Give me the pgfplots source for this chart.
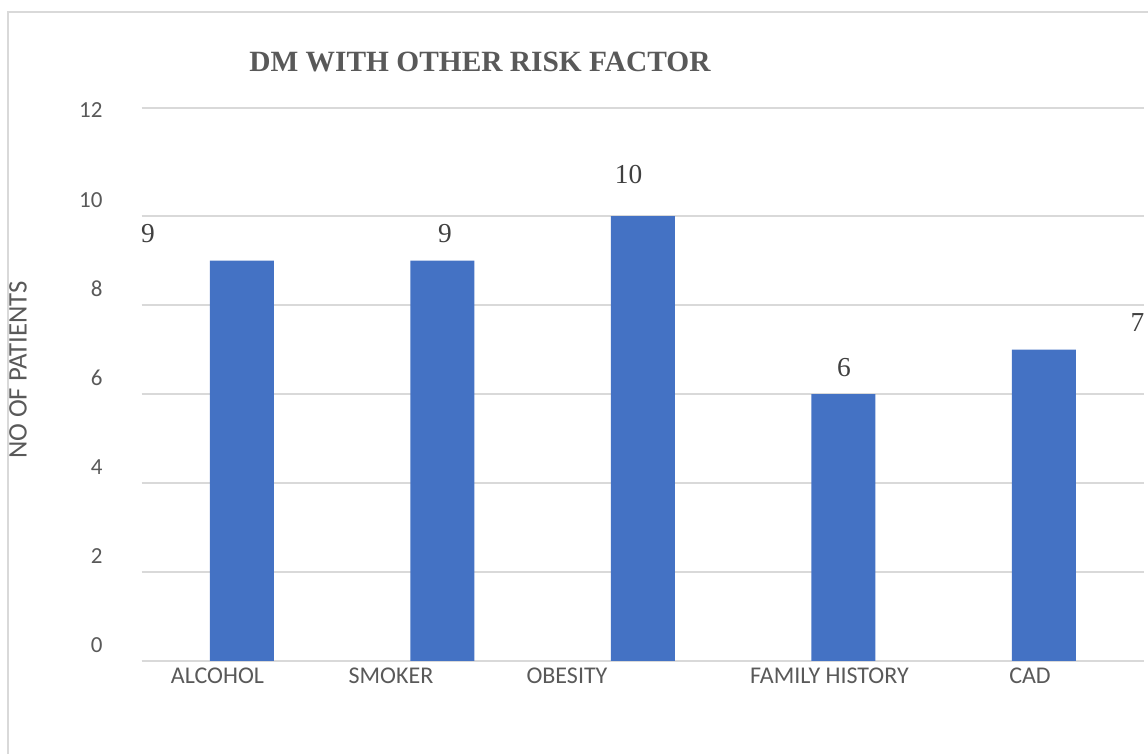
\documentclass[border=0pt]{standalone}
\usepackage{fontspec}
\setmainfont{Carlito}
\newfontfamily\serif{Liberation Serif}
\usepackage{pgfplots}
\pgfplotsset{compat=1.18}
\definecolor{barblue}{HTML}{4472C4}
\definecolor{gridgray}{HTML}{D9D9D9}
\definecolor{txtgray}{HTML}{595959}
\definecolor{lblgray}{HTML}{404040}
\begin{document}
\begin{tikzpicture}
\path[use as bounding box] (0pt,0pt) rectangle (574pt,377pt);
\draw[gridgray, line width=0.75pt] (4pt,0pt) -- (4pt,371pt) -- (574pt,371pt);
\node[font=\serif\bfseries\fontsize{14.7}{17}\selectfont, text=txtgray, inner sep=0pt] at (240pt,346pt) {DM WITH OTHER RISK FACTOR};
\node[font=\fontsize{13.4}{15}\selectfont, text=txtgray, inner sep=0pt, rotate=90] at (9pt,192pt) {NO OF PATIENTS};
\begin{axis}[
  at={(70.875pt,46.5pt)}, anchor=south west,
  scale only axis, width=501.25pt, height=276.5pt,
  xmin=-0.5, xmax=4.5, ymin=0, ymax=12.43,
  ybar, bar width=32pt,
  axis x line*=bottom, axis y line*=left,
  y axis line style={draw=none},
  x axis line style={draw=gridgray, line width=0.75pt},
  major tick length=0pt,
  ytick={0,2,4,6,8,10},
  extra y ticks={12.43}, extra y tick labels={12},
  extra y tick style={grid=major, yticklabel style={yshift=-9pt}},
  ymajorgrids, major grid style={gridgray, line width=0.75pt},
  xtick={0,1,2,3,4},
  xticklabels={{\makebox[0pt]{\kern-24.5pt ALCOHOL}},{\makebox[0pt]{\kern-51.5pt SMOKER}},{\makebox[0pt]{\kern-76pt OBESITY}},{\makebox[0pt]{\kern-14pt FAMILY HISTORY}},{\makebox[0pt]{\kern-14pt CAD}}},
  tick label style={font=\fontsize{11.5}{13}\selectfont, text=txtgray},
  yticklabel style={anchor=east, inner sep=0pt, xshift=-19.4pt, yshift=8pt},
  xticklabel style={anchor=north, inner sep=0pt, yshift=-3.5pt, font=\fontsize{12}{14}\selectfont},
  /pgf/number format/assume math mode=true,
  clip=false,
]
\addplot[fill=barblue, draw=none] coordinates {(0,9) (1,9) (2,10) (3,6) (4,7)};
\node[font=\serif\fontsize{13.7}{15}\selectfont, text=lblgray, inner sep=0pt] at (axis cs:-0.469,9.60) {9};
\node[font=\serif\fontsize{13.7}{15}\selectfont, text=lblgray, inner sep=0pt] at (axis cs:1.012,9.61) {9};
\node[font=\serif\fontsize{13.7}{15}\selectfont, text=lblgray, inner sep=0pt] at (axis cs:1.928,10.94) {10};
\node[font=\serif\fontsize{13.7}{15}\selectfont, text=lblgray, inner sep=0pt] at (axis cs:3.002,6.60) {6};
\node[font=\serif\fontsize{13.7}{15}\selectfont, text=lblgray, inner sep=0pt] at (axis cs:4.466,7.61) {7};
\end{axis}
\end{tikzpicture}
\end{document}
